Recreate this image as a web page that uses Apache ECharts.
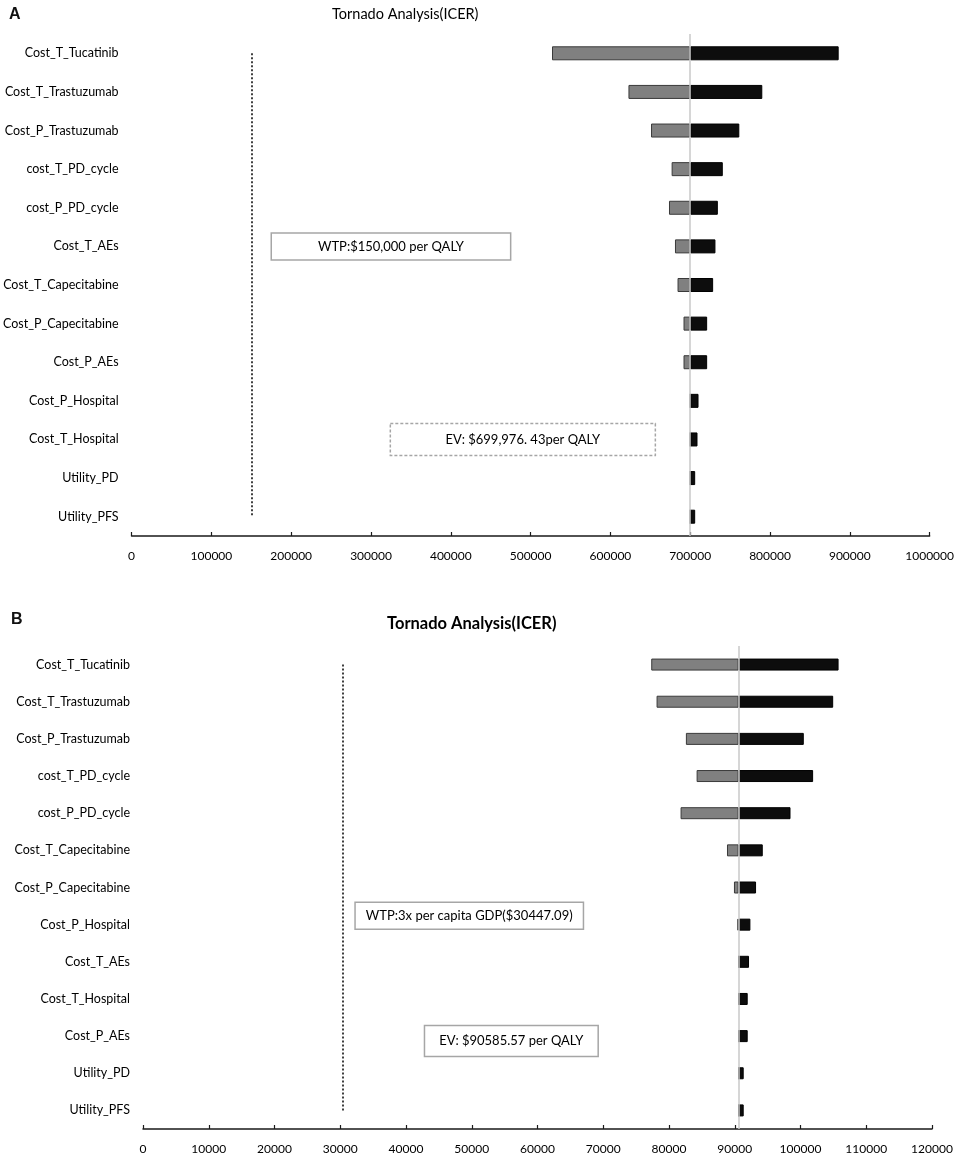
<!DOCTYPE html>
<html>
<head>
<meta charset="utf-8">
<script src="https://cdn.jsdelivr.net/npm/echarts@6/dist/echarts.min.js"></script>
<style>
  html, body { margin: 0; padding: 0; background: #fff; }
  #main { width: 957px; height: 1155px; }
</style>
</head>
<body>
<div id="main"></div>
<script>
    // panel A
    var catsA = ['Cost_T_Tucatinib', 'Cost_T_Trastuzumab', 'Cost_P_Trastuzumab', 'cost_T_PD_cycle', 'cost_P_PD_cycle',
        'Cost_T_AEs', 'Cost_T_Capecitabine', 'Cost_P_Capecitabine', 'Cost_P_AEs', 'Cost_P_Hospital',
        'Cost_T_Hospital', 'Utility_PD', 'Utility_PFS'];
    var evA = 699976.43;
    var wtpA = 150000;
    var lowA = [526800, 622600, 650900, 676700, 673400, 680900, 684100, 691600, 691600, 699976.43, 699976.43, 699976.43, 699976.43];
    var highA = [886000, 790300, 761500, 740800, 734600, 731600, 728700, 721200, 721200, 710400, 709100, 706200, 706200];

    // panel B
    var catsB = ['Cost_T_Tucatinib', 'Cost_T_Trastuzumab', 'Cost_P_Trastuzumab', 'cost_T_PD_cycle', 'cost_P_PD_cycle',
        'Cost_T_Capecitabine', 'Cost_P_Capecitabine', 'Cost_P_Hospital', 'Cost_T_AEs', 'Cost_T_Hospital',
        'Cost_P_AEs', 'Utility_PD', 'Utility_PFS'];
    var evB = 90585.57;
    var wtpB = 30447.09;
    var lowB = [77300, 78110, 82570, 84200, 81760, 88820, 89880, 90400, 90585.57, 90585.57, 90585.57, 90585.57, 90585.57];
    var highB = [105790, 104970, 100500, 101920, 98480, 94260, 93240, 92380, 92170, 91970, 91970, 91360, 91360];

    var FONT = 'Lato';

    function xAxisCfg(grid, max, interval) {
        return {
            type: 'value', gridIndex: grid, min: 0, max: max, interval: interval,
            splitLine: { show: false },
            axisLine: { show: true, lineStyle: { color: '#1a1a1a', width: 1.5 } },
            axisTick: { show: true, inside: true, length: 4, lineStyle: { color: '#1a1a1a', width: 1.2 } },
            axisLabel: { color: '#000', fontSize: 12, fontFamily: FONT, margin: 14,
                formatter: function (v) { return String(v); } }
        };
    }
    function yAxisCfg(grid, cats) {
        return {
            type: 'category', gridIndex: grid, data: cats, inverse: true,
            axisLine: { show: false }, axisTick: { show: false },
            axisLabel: { color: '#000', fontSize: 12.5, fontFamily: FONT, margin: 13 }
        };
    }
    function tornado(idx, low, high, ev, wtp, cats, barW) {
        var base = low.map(function (v) { return v; });
        var down = low.map(function (v) { return ev - v; });
        var up = high.map(function (v) { return v - ev; });
        return [{
            type: 'bar', stack: 's' + idx, xAxisIndex: idx, yAxisIndex: idx, barWidth: barW,
            silent: true, itemStyle: { color: 'transparent' }, data: base
        }, {
            type: 'bar', stack: 's' + idx, xAxisIndex: idx, yAxisIndex: idx, barWidth: barW,
            itemStyle: { color: '#808080', borderColor: '#3a3a3a', borderWidth: 1 }, data: down,
            markLine: {
                silent: true, symbol: 'none', label: { show: false },
                data: [
                    { xAxis: ev, lineStyle: { color: '#c8c8c8', width: 1.5, type: 'solid' } },
                    [{ coord: [wtp, cats[0]], lineStyle: { color: '#111', width: 1.6, type: [2, 2] } },
                     { coord: [wtp, cats[cats.length - 1]] }]
                ]
            }
        }, {
            type: 'bar', stack: 's' + idx, xAxisIndex: idx, yAxisIndex: idx, barWidth: barW,
            itemStyle: { color: '#0d0d0d', borderColor: '#000', borderWidth: 1 }, data: up
        }];
    }

    var chart = echarts.init(document.getElementById('main'));

    var option = {
        animation: false,
        title: [
            { text: 'A', left: 4, top: 2, textStyle: { fontFamily: 'Liberation Sans', fontSize: 16, fontWeight: 'bold', color: '#111' } },
            { text: 'Tornado Analysis(ICER)', left: 327, top: 2, textStyle: { fontFamily: FONT, fontSize: 14.5, fontWeight: 'normal', color: '#000' } },
            { text: 'B', left: 6, top: 607, textStyle: { fontFamily: 'Liberation Sans', fontSize: 16, fontWeight: 'bold', color: '#111' } },
            { text: 'Tornado Analysis(ICER)', left: 382, top: 610, textStyle: { fontFamily: FONT, fontSize: 16.5, fontWeight: 'bold', color: '#000' } }
        ],
        grid: [
            { left: 130, right: 25, top: 34, height: 502 },
            { left: 143, right: 25, top: 646, height: 484 }
        ],
        xAxis: [xAxisCfg(0, 1000000, 100000), xAxisCfg(1, 120000, 10000)],
        yAxis: [yAxisCfg(0, catsA), yAxisCfg(1, catsB)],
        series: tornado(0, lowA, highA, evA, wtpA, catsA, 14)
            .concat(tornado(1, lowB, highB, evB, wtpB, catsB, 12))
    };
    chart.setOption(option);

    // annotation boxes, x placed on the value axis, y on a category row
    var notes = [
        { grid: 0, from: 175000, to: 475000, row: 'Cost_T_AEs', dy: 0, h: 27, text: 'WTP:$150,000 per QALY', dashed: false },
        { grid: 0, from: 324200, to: 656300, row: 'Cost_T_Hospital', dy: 0, h: 32, text: 'EV: $699,976. 43per QALY', dashed: true },
        { grid: 1, from: 32250, to: 66990, row: 'Cost_P_Hospital', dy: -9, h: 27, text: 'WTP:3x per capita GDP($30447.09)', dashed: false },
        { grid: 1, from: 42810, to: 69230, row: 'Cost_P_AEs', dy: 5, h: 31, text: 'EV: $90585.57 per QALY', dashed: false }
    ];
    var graphics = [];
    notes.forEach(function (n) {
        var p0 = chart.convertToPixel({ gridIndex: n.grid }, [n.from, n.row]);
        var p1 = chart.convertToPixel({ gridIndex: n.grid }, [n.to, n.row]);
        var cy = p0[1] + n.dy;
        graphics.push({
            type: 'rect', z: 10,
            shape: { x: p0[0], y: cy - n.h / 2, width: p1[0] - p0[0], height: n.h },
            style: { fill: '#fff', stroke: '#a6a6a6', lineWidth: 1.5, lineDash: n.dashed ? [3, 2] : null }
        });
        graphics.push({
            type: 'text', z: 11,
            x: (p0[0] + p1[0]) / 2, y: cy,
            style: { text: n.text, fill: '#000', font: '13px ' + FONT, align: 'center', verticalAlign: 'middle' }
        });
    });
    chart.setOption({ graphic: graphics });
</script>
</body>
</html>
